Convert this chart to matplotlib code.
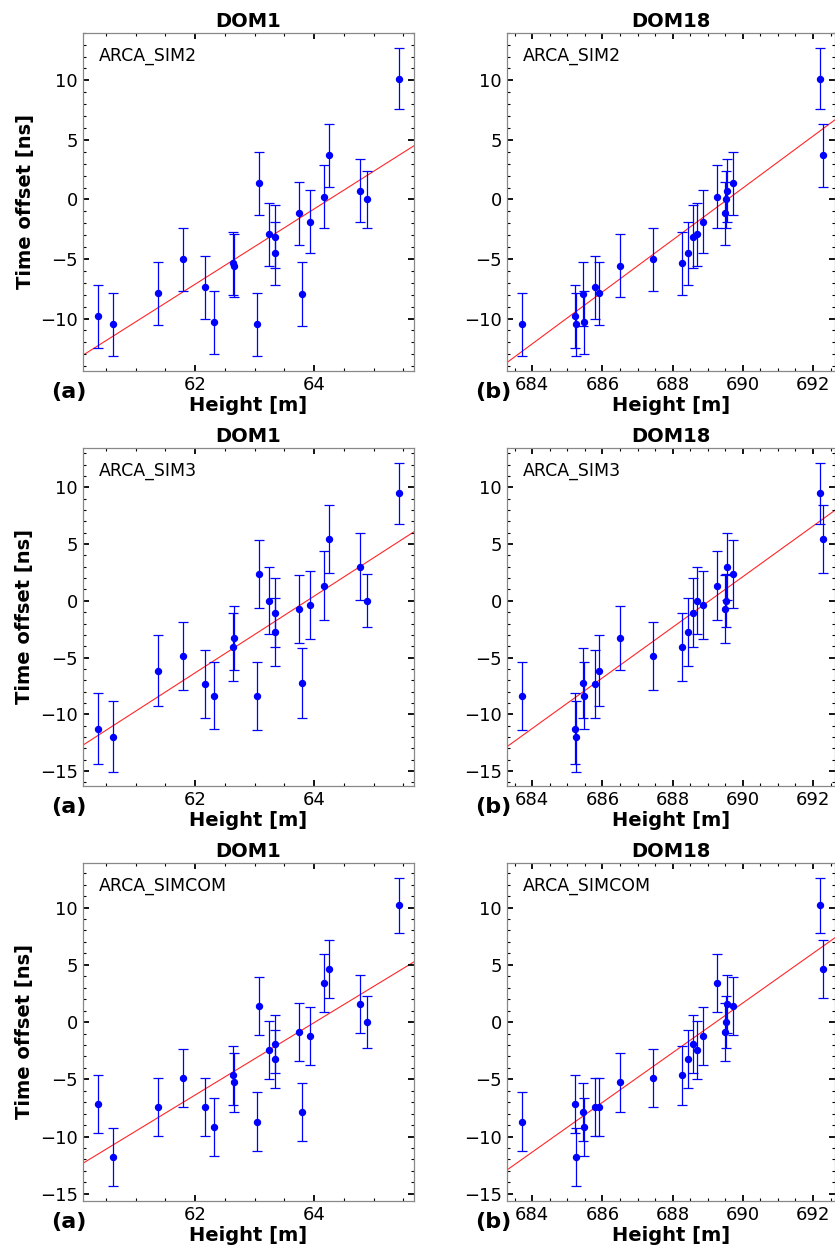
import matplotlib
matplotlib.use("Agg")
import matplotlib.pyplot as plt
from matplotlib.ticker import MultipleLocator
import numpy as np

# heights of each point for the two DOMs (same points, same order)
dom1_height = [60.36, 60.62, 61.37, 61.80, 62.16, 62.32, 62.63, 62.66, 63.04, 63.08, 63.24,
               63.34, 63.35, 63.75, 63.80, 63.93, 64.16, 64.25, 64.77, 64.89, 65.42]
dom18_height = [685.21, 685.24, 685.91, 687.44, 685.79, 685.47, 688.26, 686.49, 683.70, 689.71, 688.69,
                688.45, 688.58, 689.48, 685.44, 688.86, 689.26, 692.28, 689.55, 689.51, 692.20]

# time offsets [ns] per simulation
sim2_offset = [-9.82, -10.49, -7.89, -5.03, -7.36, -10.32, -5.37, -5.57, -10.49, 1.34, -2.94,
               -4.53, -3.13, -1.17, -7.94, -1.87, 0.22, 3.72, 0.73, 0.0, 10.15]
sim3_offset = [-11.26, -11.97, -6.15, -4.85, -7.32, -8.38, -4.03, -3.29, -8.35, 2.35, 0.0,
               -2.79, -1.03, -0.76, -7.26, -0.35, 1.35, 5.47, 3.0, 0.0, 9.47]
simcom_offset = [-7.16, -11.79, -7.42, -4.89, -7.42, -9.17, -4.66, -5.27, -8.70, 1.43, -2.45,
                 -3.20, -1.92, -0.87, -7.83, -1.19, 3.41, 4.63, 1.60, 0.0, 10.19]

sim2_err = [2.65] * 19 + [2.4, 2.55]
sim3_err = [3.1, 3.1, 3.1, 3.0, 3.0, 2.95, 3.0, 2.8, 3.0, 3.0, 2.94,
            3.0, 3.0, 3.0, 3.1, 3.0, 3.05, 3.0, 2.97, 2.35, 2.67]
simcom_err = [2.55] * 19 + [2.25, 2.4]

sim_names = ["ARCA_SIM2", "ARCA_SIM3", "ARCA_SIMCOM"]
offsets = [sim2_offset, sim3_offset, simcom_offset]
errors = [sim2_err, sim3_err, simcom_err]

# linear fits: (slope, value at reference height)
dom1_ref, dom18_ref = 63.0, 688.0
dom1_fit = [(3.16, -3.96), (3.38, -2.97), (3.16, -3.21)]
dom18_fit = [(2.18, -3.40), (2.23, -2.33), (2.17, -2.67)]

row_ylim = [(-14.38, 14.0), (-16.3, 13.5), (-15.6, 13.92)]
dom1_xlim = (60.11, 65.68)
dom18_xlim = (683.27, 692.64)

W, H = 835, 1247
fig = plt.figure(figsize=(W / 100, H / 100), dpi=100)

col_left = [82.7, 506.7]
col_width = [331.3, 328.8]
row_bottom = [370.7, 785.7, 1200.7]
ax_h = 338

for r in range(3):
    for c in range(2):
        ax = fig.add_axes([col_left[c] / W, (H - row_bottom[r]) / H, col_width[c] / W, ax_h / H])
        if c == 0:
            x = dom1_height; xlim = dom1_xlim; slope, y0 = dom1_fit[r]; xref = dom1_ref
            title, tag = "DOM1", "(a)"
        else:
            x = dom18_height; xlim = dom18_xlim; slope, y0 = dom18_fit[r]; xref = dom18_ref
            title, tag = "DOM18", "(b)"

        xs = np.array(xlim)
        ax.plot(xs, y0 + slope * (xs - xref), color="red", lw=0.8, alpha=0.85, zorder=1)
        ax.errorbar(x, offsets[r], yerr=errors[r], fmt="o", color="blue", ms=4.3,
                    elinewidth=0.9, capsize=3.4, capthick=0.9, zorder=2)

        ax.set_xlim(xlim)
        ax.set_ylim(row_ylim[r])
        ax.xaxis.set_major_locator(MultipleLocator(2))
        ax.xaxis.set_minor_locator(MultipleLocator(0.5))
        ax.yaxis.set_major_locator(MultipleLocator(5))
        ax.yaxis.set_minor_locator(MultipleLocator(1))
        ax.tick_params(which="both", direction="in", top=True, right=True, labelsize=13)
        ax.tick_params(which="major", length=4, width=1.3)
        ax.tick_params(which="minor", length=2, width=0.8)
        for s in ax.spines.values():
            s.set_color("#888888")
            s.set_linewidth(0.9)

        ax.set_title(title, fontsize=14, fontweight="bold", pad=4)
        ax.set_xlabel("Height [m]", fontsize=14, fontweight="bold", labelpad=2)
        if c == 0:
            ax.set_ylabel("Time offset [ns]", fontsize=14, fontweight="bold")
        ax.text(0.05, 0.93, sim_names[r], transform=ax.transAxes, fontsize=12.5,
                ha="left", va="center")
        ax.text(-0.042, -0.064, tag, transform=ax.transAxes, fontsize=16,
                fontweight="bold", ha="center", va="center")

fig.savefig("out.png", dpi=100)
